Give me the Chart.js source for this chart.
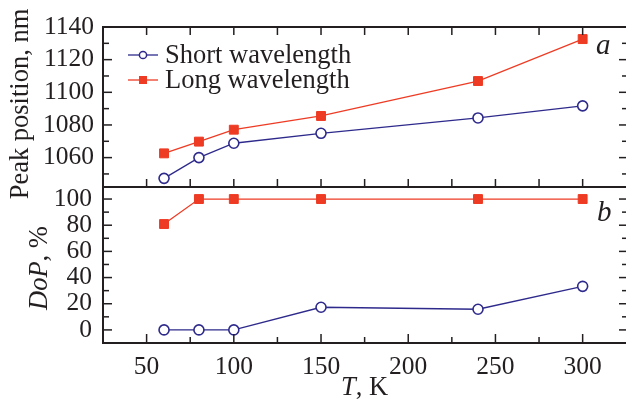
<!DOCTYPE html>
<html>
<head>
<meta charset="utf-8">
<script src="https://cdn.jsdelivr.net/npm/chart.js@4.4.1/dist/chart.umd.min.js"></script>
<style>
html, body { margin: 0; padding: 0; background: #fff; overflow: hidden; }
</style>
</head>
<body>
<!-- two px wider than the window so the right frame line falls just outside -->
<canvas id="peaks" width="628" height="403"></canvas>
<script>
// temperature points, K
var temperature = [60, 80, 100, 150, 240, 300];
// peak positions, nm
var peakShort = [1047.3, 1060.0, 1068.8, 1074.9, 1084.3, 1091.7];
var peakLong = [1062.6, 1069.8, 1077.1, 1085.5, 1106.9, 1132.6];
// degree of polarization, %
var dopShort = [0, 0, 0, 17.3, 15.8, 33.3];
var dopLong = [80.9, 100, 100, 100, 100, 100];

var tempTicks = [50, 100, 150, 200, 250, 300];
var peakTicks = [1060, 1080, 1100, 1120, 1140];
var dopTicks = [0, 20, 40, 60, 80, 100];
var seriesNames = ['Short wavelength', 'Long wavelength'];

var ink = '#231f20';
var blue = '#2e2a8c';
var red = '#ee3b24';
var serif = "'Liberation Serif', 'DejaVu Serif', serif";

function pairs(xs, ys) {
  return xs.map(function (x, i) { return {x: x, y: ys[i]}; });
}

function fixedTicks(list) {
  return function (scale) {
    scale.ticks = list.map(function (v) { return {value: v}; });
  };
}

// keep the plot box exactly where the axes say, no label overhang padding
function pinWidth(w) {
  return function (s) { s.width = w; s.paddingTop = 0; s.paddingBottom = 0; };
}
function pinHeight(h) {
  return function (s) { s.height = h; s.paddingLeft = 0; s.paddingRight = 0; };
}

var shortStyle = {
  borderColor: blue, borderWidth: 1.3,
  pointStyle: 'circle', pointRadius: 5, pointBorderWidth: 1.6,
  pointBackgroundColor: '#fff', pointBorderColor: blue
};
var longStyle = {
  borderColor: red, borderWidth: 1.3,
  pointStyle: 'rect', pointRadius: 6.3, pointBorderWidth: 1,
  pointBackgroundColor: red, pointBorderColor: red
};

// frame, inward ticks, axis titles, legend and panel letters
var decorations = {
  id: 'decorations',
  afterDraw: function (chart) {
    var ctx = chart.ctx, a = chart.chartArea;
    var sx = chart.scales.x, yp = chart.scales.yPeak, yd = chart.scales.yDop;
    var mid = yp.bottom;

    function seg(x1, y1, x2, y2) {
      ctx.beginPath(); ctx.moveTo(x1, y1); ctx.lineTo(x2, y2); ctx.stroke();
    }

    ctx.save();
    ctx.strokeStyle = ink;
    ctx.lineWidth = 2;
    ctx.strokeRect(a.left, a.top, a.right - a.left, a.bottom - a.top);
    seg(a.left, mid, a.right, mid);

    ctx.lineWidth = 1.5;
    function yTicks(scale, lo, hi, step, majors) {
      for (var v = lo; v <= hi; v += step) {
        var y = scale.getPixelForValue(v);
        var len = majors.indexOf(v) >= 0 ? 9 : 6;
        seg(a.left, y, a.left + len, y);
        seg(a.right, y, a.right - len, y);
      }
    }
    yTicks(yp, 1050, 1140, 10, peakTicks);
    yTicks(yd, 0, 100, 10, dopTicks);

    for (var t = 50; t <= 300; t += 25) {
      var x = sx.getPixelForValue(t);
      var len = tempTicks.indexOf(t) >= 0 ? 9 : 6;
      seg(x, a.top, x, a.top + 8);
      seg(x, mid, x, mid - 8);
      seg(x, a.bottom, x, a.bottom - len);
    }

    ctx.fillStyle = ink;
    ctx.textBaseline = 'alphabetic';

    // text made of italic and upright runs, centred on (cx, cy)
    function mixed(runs, cx, cy, rot, size) {
      ctx.save();
      ctx.translate(cx, cy);
      ctx.rotate(rot);
      var total = 0;
      runs.forEach(function (r) {
        ctx.font = (r[1] ? 'italic ' : '') + size + 'px ' + serif;
        total += ctx.measureText(r[0]).width;
      });
      var pos = -total / 2;
      ctx.textAlign = 'left';
      runs.forEach(function (r) {
        ctx.font = (r[1] ? 'italic ' : '') + size + 'px ' + serif;
        ctx.fillText(r[0], pos, 0);
        pos += ctx.measureText(r[0]).width;
      });
      ctx.restore();
    }
    mixed([['Peak position, nm', false]], 28, (a.top + mid) / 2 - 3, -Math.PI / 2, 26.5);
    mixed([['DoP', true], [', %', false]], 47, (mid + a.bottom) / 2 + 3, -Math.PI / 2, 26.5);
    mixed([['T', true], [', K', false]], (a.left + 626) / 2, 395, 0, 26.5);

    // panel letters
    ctx.font = 'italic 29px ' + serif;
    ctx.textAlign = 'left';
    ctx.fillText('a', 596, 54);
    ctx.fillText('b', 597, 221);

    // legend
    var rows = [[shortStyle, 55], [longStyle, 80]];
    ctx.font = '26.5px ' + serif;
    rows.forEach(function (row, i) {
      var s = row[0], y = row[1];
      ctx.strokeStyle = s.borderColor;
      ctx.lineWidth = 1.3;
      seg(128, y, 158, y);
      ctx.lineWidth = 1.5;
      if (s.pointStyle === 'circle') {
        ctx.beginPath();
        ctx.arc(143, y, 3.6, 0, Math.PI * 2);
        ctx.fillStyle = '#fff'; ctx.fill(); ctx.stroke();
      } else {
        ctx.fillStyle = s.pointBackgroundColor;
        ctx.fillRect(139, y - 4, 8, 8);
      }
      ctx.fillStyle = ink;
      ctx.fillText(seriesNames[i], 165, y + 8);
    });
    ctx.restore();
  }
};

function tickOptions(pad) {
  return {
    font: {family: serif, size: 25.5}, color: ink, padding: pad,
    autoSkip: false, maxRotation: 0,
    callback: function (v) { return String(v); }
  };
}

new Chart(document.getElementById('peaks').getContext('2d'), {
  type: 'line',
  data: {
    datasets: [
      Object.assign({label: seriesNames[0], data: pairs(temperature, peakShort), yAxisID: 'yPeak'}, shortStyle),
      Object.assign({label: seriesNames[1], data: pairs(temperature, peakLong), yAxisID: 'yPeak'}, longStyle),
      Object.assign({label: seriesNames[0], data: pairs(temperature, dopShort), yAxisID: 'yDop'}, shortStyle),
      Object.assign({label: seriesNames[1], data: pairs(temperature, dopLong), yAxisID: 'yDop'}, longStyle)
    ]
  },
  options: {
    responsive: false,
    animation: false,
    devicePixelRatio: 1,
    layout: {autoPadding: false, padding: {top: 27, left: 0, right: 0, bottom: 0}},
    plugins: {legend: {display: false}, tooltip: {enabled: false}},
    scales: {
      x: {
        type: 'linear', position: 'bottom', min: 25, max: 326,
        grid: {display: false, drawTicks: false}, border: {display: false},
        ticks: tickOptions(9),
        afterBuildTicks: fixedTicks(tempTicks),
        afterFit: pinHeight(60)
      },
      yPeak: {
        type: 'linear', position: 'left', stack: 'panels', stackWeight: 160, weight: 2,
        min: 1042, max: 1140,
        grid: {display: false, drawTicks: false}, border: {display: false},
        ticks: tickOptions(9),
        afterBuildTicks: fixedTicks(peakTicks),
        afterFit: pinWidth(103)
      },
      yDop: {
        type: 'linear', position: 'left', stack: 'panels', stackWeight: 156, weight: 1,
        min: -10, max: 109.2,
        grid: {display: false, drawTicks: false}, border: {display: false},
        ticks: tickOptions(11),
        afterBuildTicks: fixedTicks(dopTicks),
        afterFit: pinWidth(103)
      }
    }
  },
  plugins: [decorations]
});
</script>
</body>
</html>
